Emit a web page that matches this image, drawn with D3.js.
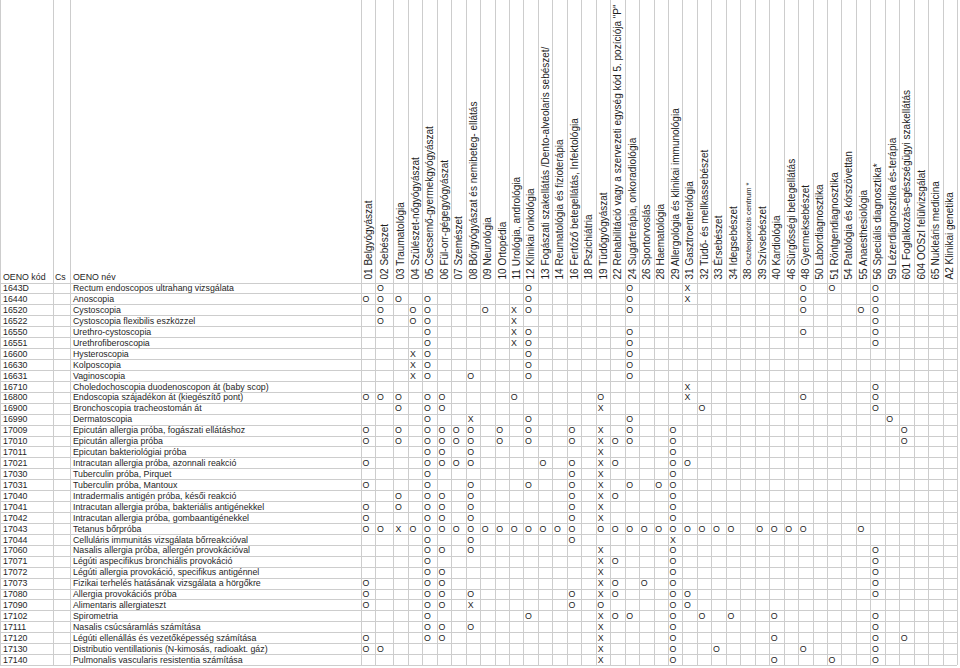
<!DOCTYPE html>
<html>
<head>
<meta charset="utf-8">
<script src="https://cdn.jsdelivr.net/npm/d3@7"></script>
<style>
  body { margin: 0; background: #fff; }
  text { font-family: "Liberation Sans", Arial, sans-serif; fill: #1e1e1e; }
</style>
</head>
<body>
<svg id="chart" width="960" height="668"></svg>
<script>
// szakmakódok (oszlopok)
var specCodes = ["01", "02", "03", "04", "05", "06", "07", "08", "09", "10", "11", "12", "13", "14",
    "16", "18", "19", "22", "24", "26", "28", "29", "31", "32", "33", "34", "38", "39", "40", "46",
    "48", "50", "51", "54", "55", "56", "59", "601", "604", "65", "A2"];
var specNames = ["Belgyógyászat", "Sebészet", "Traumatológia", "Szülészet-nőgyógyászat",
    "Csecsemő-gyermekgyógyászat", "Fül-orr-gégegyógyászat", "Szemészet",
    "Bőrgyógyászat és nemibeteg- ellátás", "Neurológia", "Ortopédia", "Urológia,  andrológia",
    "Klinikai onkológia", "Fogászati szakellátás /Dento-alveolaris sebészet/",
    "Reumatológia és fizioterápia", "Fertőző betegellátás, Infektológia", "Pszichiátria",
    "Tüdőgyógyászat", "Rehabilitáció vagy a szervezeti egység kód 5. pozíciója \"P\"",
    "Sugárterápia, onkoradiológia", "Sportorvoslás", "Haematológia",
    "Allergológia és klinikai immunológia", "Gasztroenterológia", "Tüdő- és mellkassebészet",
    "Érsebészet", "Idegsebészet", "Oszteoporózis centrum *", "Szívsebészet", "Kardiológia",
    "Sürgősségi betegellátás", "Gyermeksebészet", "Labordiagnosztika", "Röntgendiagnosztika",
    "Patológia és kórszövettan", "Anaesthesiológia", "Speciális diagnosztika*",
    "Lézerdiagnosztika és-terápia", "Foglalkozás-egészségügyi szakellátás",
    "OOSzI felülvizsgálat", "Nukleáris medicina", "Klinikai genetika"];

// OENO sorok
var oenoCodes = ["1643D", "16440", "16520", "16522", "16550", "16551", "16600", "16630", "16631",
    "16710", "16800", "16900", "16990", "17009", "17010", "17011", "17021", "17030", "17031",
    "17040", "17041", "17042", "17043", "17044", "17060", "17071", "17072", "17073", "17080",
    "17090", "17102", "17111", "17120", "17130", "17140"];
var oenoNames = ["Rectum endoscopos ultrahang vizsgálata", "Anoscopia", "Cystoscopia",
    "Cystoscopia flexibilis eszközzel", "Urethro-cystoscopia", "Urethrofiberoscopia",
    "Hysteroscopia", "Kolposcopia", "Vaginoscopia",
    "Choledochoscopia duodenoscopon át (baby scop)", "Endoscopia szájadékon át (kiegészítő pont)",
    "Bronchoscopia tracheostomán át", "Dermatoscopia",
    "Epicután allergia próba, fogászati ellátáshoz", "Epicután allergia próba",
    "Epicutan bakteriológiai próba", "Intracutan allergia próba, azonnali reakció",
    "Tuberculin próba, Pirquet", "Tuberculin próba, Mantoux",
    "Intradermalis antigén próba, késői reakció", "Intracutan allergia próba, bakteriális antigénekkel",
    "Intracutan allergia próba, gombaantigénekkel", "Tetanus bőrpróba",
    "Celluláris immunitás vizsgálata bőrreakcióval", "Nasalis allergia próba, allergén provokációval",
    "Légúti aspecifikus bronchiális provokáció", "Légúti allergia provokáció, specifikus antigénnel",
    "Fizikai terhelés hatásának vizsgálata a hörgőkre", "Allergia provokációs próba",
    "Alimentaris allergiateszt", "Spirometria", "Nasalis csúcsáramlás számítása",
    "Légúti ellenállás és vezetőképesség számítása",
    "Distributio ventillationis (N-kimosás, radioakt. gáz)",
    "Pulmonalis vascularis resistentia számítása"];

// jelölések soronként: szakmakód + jel
var oenoMarks = [
    "02O 12O 24O 31X 48O 51O 56O",
    "01O 02O 03O 05O 12O 24O 31X 48O 56O",
    "02O 04O 05O 09O 11X 12O 24O 48O 55O 56O",
    "02O 04O 05O 11X 56O",
    "05O 11X 12O 24O 48O 56O",
    "05O 11X 12O 24O 56O",
    "04X 05O 12O 24O",
    "04X 05O 12O 24O",
    "04X 05O 08O 12O 24O",
    "31X 56O",
    "01O 02O 03O 05O 06O 11O 19O 31X 48O 56O",
    "03O 05O 06O 19X 32O 56O",
    "05O 08X 12O 24O 59O",
    "01O 03O 05O 06O 07O 08O 10O 12O 16O 19X 24O 29O 601O",
    "01O 03O 05O 06O 07O 08O 10O 12O 16O 19X 22O 24O 29O 601O",
    "05O 06O 08O 19X 29O",
    "01O 05O 06O 07O 08O 13O 16O 19X 22O 29O 31O",
    "05O 16O 19X 29O",
    "01O 05O 08O 12O 16O 19X 24O 28O 29O",
    "03O 05O 06O 08O 16O 19X 22O 29O",
    "01O 03O 05O 06O 08O 16O 19X 29O",
    "01O 05O 06O 08O 16O 19X 29O",
    "01O 02O 03X 04O 05O 06O 07O 08O 09O 10O 11O 12O 13O 14O 16O 19O 22O 24O 26O 28O 29O 31O 32O 33O 34O 39O 40O 46O 48O 55O",
    "05O 08O 16O 29X",
    "05O 06O 08O 19X 29O 56O",
    "05O 19X 22O 29O 56O",
    "05O 06O 19X 29O 56O",
    "01O 05O 06O 19X 22O 26O 29O 56O",
    "01O 05O 06O 08O 16O 19X 22O 29O 31O 56O",
    "01O 05O 06O 08X 16O 19O 29O 31O",
    "05O 12O 19X 22O 24O 29O 32O 34O 40O 56O",
    "05O 06O 08O 19X 29O 56O",
    "01O 05O 06O 19X 29O 40O 56O 601O",
    "01O 02O 19X 29O 33O 48O 56O",
    "19X 29O 40O 51O 56O"
];

var svg = d3.select("#chart"),
    tableTop = 282.5,
    rowH = 10.93,
    gridLeft = 361,
    bodyFont = 8.8,
    headFont = 10;

// oszlopszélességek: a 02-es oszlop szélesebb
var colW = specCodes.map(function (d, i) { return i === 1 ? 18 : 14.45; });
var lefts = Array.from(d3.cumsum([gridLeft].concat(colW)));
var x = d3.scaleOrdinal().domain(specCodes).range(lefts.slice(0, specCodes.length));
var w = d3.scaleOrdinal().domain(specCodes).range(colW);
var gridRight = lefts[lefts.length - 1];

var y = d3.scaleBand()
    .domain(oenoCodes)
    .range([tableTop, tableTop + oenoCodes.length * rowH]);
var tableBottom = y.range()[1];

var rows = oenoCodes.map(function (code, i) {
    return {
        code: code,
        name: oenoNames[i],
        marks: oenoMarks[i].split(" ").map(function (s) {
            return {spec: s.slice(0, -1), mark: s.slice(-1), code: code};
        })
    };
});

function crisp(v) { return Math.round(v) + 0.5; }

// rács
var grid = svg.append("g").attr("class", "grid")
    .attr("stroke", "#cdcdcd").attr("stroke-width", 1).attr("shape-rendering", "crispEdges");
var vLines = [0, 53, 70].concat(lefts);
grid.selectAll("line.v").data(vLines).enter().append("line")
    .attr("class", "v")
    .attr("x1", crisp).attr("x2", crisp)
    .attr("y1", 0).attr("y2", tableBottom);
var hLines = [tableTop].concat(oenoCodes.map(function (c) { return y(c) + rowH; }));
grid.selectAll("line.h").data(hLines).enter().append("line")
    .attr("class", "h")
    .attr("x1", 0).attr("x2", gridRight)
    .attr("y1", crisp).attr("y2", crisp);

// fejléc
var head = svg.append("g").attr("class", "header");
head.selectAll("text.col").data([["OENO kód", 3], ["Cs", 55], ["OENO név", 73]]).enter()
    .append("text")
    .attr("class", "col")
    .attr("x", function (d) { return d[1]; })
    .attr("y", tableTop - 3)
    .style("font-size", bodyFont + "px")
    .text(function (d) { return d[0]; });

var spec = head.selectAll("text.spec").data(specCodes).enter().append("text")
    .attr("class", "spec")
    .attr("transform", function (d) {
        return "translate(" + (x(d) + w(d) / 2 + 3.7) + "," + (tableTop - 3) + ") rotate(-90)";
    })
    .style("font-size", headFont + "px");
spec.append("tspan").text(function (d) { return d + " "; });
spec.append("tspan")
    .style("font-size", function (d) { return d === "38" ? "7.6px" : null; })
    .text(function (d, i) { return specNames[i]; });

// sorok
var row = svg.append("g").attr("class", "rows").selectAll("g.row").data(rows).enter()
    .append("g").attr("class", "row");
row.append("text")
    .attr("x", 3)
    .attr("y", function (d) { return y(d.code) + rowH / 2 + 3.2; })
    .style("font-size", bodyFont + "px")
    .text(function (d) { return d.code; });
row.append("text")
    .attr("x", 73)
    .attr("y", function (d) { return y(d.code) + rowH / 2 + 3.2; })
    .style("font-size", bodyFont + "px")
    .text(function (d) { return d.name; });

row.selectAll("text.mark").data(function (d) { return d.marks; }).enter().append("text")
    .attr("class", "mark")
    .attr("x", function (d) { return x(d.spec) + 5; })
    .attr("y", function (d) { return y(d.code) + rowH / 2 + 3.2; })
    .attr("text-anchor", "middle")
    .style("font-size", bodyFont + "px")
    .text(function (d) { return d.mark; });
</script>
</body>
</html>
